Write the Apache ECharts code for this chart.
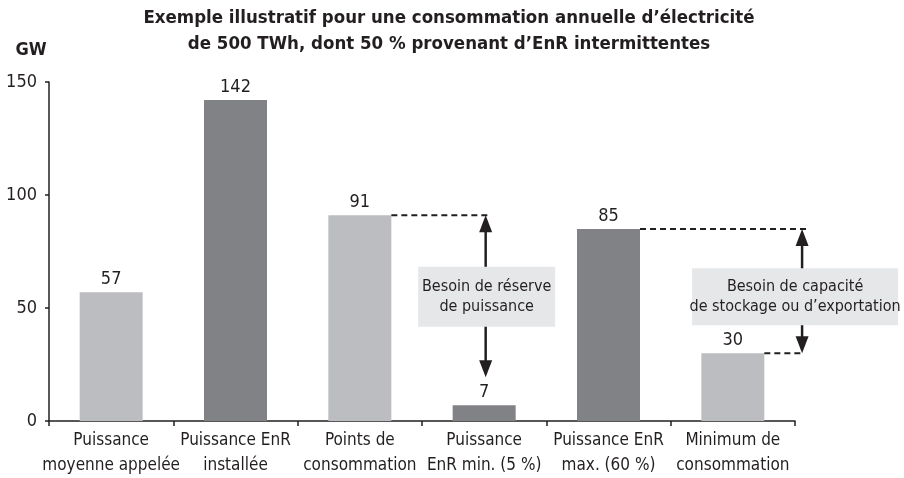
<!DOCTYPE html>
<html>
<head>
<meta charset="utf-8">
<script src="https://cdn.jsdelivr.net/npm/echarts@6/dist/echarts.min.js"></script>
<style>
html,body{margin:0;padding:0;background:#fff;}
#chart{width:904px;height:478px;}
</style>
</head>
<body>
<div id="chart"></div>
<script>
// ---- data ----
const categories = [
  'Puissance\nmoyenne appelée',
  'Puissance EnR\ninstallée',
  'Points de\nconsommation',
  'Puissance\nEnR min. (5 %)',
  'Puissance EnR\nmax. (60 %)',
  'Minimum de\nconsommation'
];
const values = [57, 142, 91, 7, 85, 30];
const barKind = ['demand', 'enr', 'demand', 'enr', 'enr', 'demand'];
const yTicks = [0, 50, 100, 150];
const gapPairs = [[2, 3], [4, 5]];
const gapLabels = ['Besoin de réserve\nde puissance', 'Besoin de capacité\nde stockage ou d’exportation'];
const titleText = 'Exemple illustratif pour une consommation annuelle d’électricité\nde 500 TWh, dont 50 % provenant d’EnR intermittentes';
const unitText = 'GW';

// ---- styles ----
const FONT = "'Liberation Sans Narrow', 'DejaVu Sans Condensed', 'Arial Narrow', sans-serif";
const INK = '#231f20';
const kindColor = { demand: '#bcbdc0', enr: '#808285' };
const BAR_W = 63;
const gapLayout = [
  { arrowMode: 'lowCenter', arrowDx: 1.5, lowTipGap: 28, boxDx: 1, boxW: 137, boxH: 60 },
  { arrowMode: 'afterLow', arrowBand: 0.557, lowTipGap: 0, boxDx: -7, boxW: 206, boxH: 57 }
];
const BOX_VALUE = 55;

const chart = echarts.init(document.getElementById('chart'), null, { renderer: 'canvas' });

function renderGap(params, api) {
  const i = params.dataIndex;
  const [hi, lo] = gapPairs[i];
  const L = gapLayout[i];
  const hiPt = api.coord([hi, values[hi]]);
  const loPt = api.coord([lo, values[lo]]);
  const band = api.size([1, 0])[0];
  const half = BAR_W / 2;
  let ax;
  if (L.arrowMode === 'lowCenter') ax = loPt[0] + L.arrowDx;
  else ax = loPt[0] + band * L.arrowBand;
  const dashStyle = { stroke: INK, lineWidth: 2, lineDash: [6, 4] };
  const children = [];
  children.push({ type: 'line', shape: { x1: hiPt[0] + half, y1: hiPt[1], x2: ax + 5, y2: hiPt[1] }, style: dashStyle });
  if (L.arrowMode !== 'lowCenter') {
    children.push({ type: 'line', shape: { x1: loPt[0] + half, y1: loPt[1], x2: ax, y2: loPt[1] }, style: dashStyle });
  }
  const topTip = hiPt[1];
  const lowTip = loPt[1] - L.lowTipGap;
  const headL = 17, headW = 6.5;
  children.push({ type: 'line', shape: { x1: ax, y1: topTip + headL - 2, x2: ax, y2: lowTip - headL + 2 }, style: { stroke: INK, lineWidth: 2.5 } });
  children.push({ type: 'polygon', shape: { points: [[ax, topTip], [ax - headW, topTip + headL], [ax + headW, topTip + headL]] }, style: { fill: INK } });
  children.push({ type: 'polygon', shape: { points: [[ax, lowTip], [ax - headW, lowTip - headL], [ax + headW, lowTip - headL]] }, style: { fill: INK } });
  const cy = api.coord([lo, BOX_VALUE])[1];
  const cx = ax + L.boxDx;
  children.push({ type: 'rect', shape: { x: cx - L.boxW / 2, y: cy - L.boxH / 2, width: L.boxW, height: L.boxH }, style: { fill: '#e6e7e8' } });
  children.push({ type: 'text', x: cx, y: cy, style: { text: gapLabels[i], fill: INK, font: '16px ' + FONT, textAlign: 'center', textVerticalAlign: 'middle', lineHeight: 20 } });
  return { type: 'group', children: children };
}

const option = {
  animation: false,
  backgroundColor: '#ffffff',
  textStyle: { fontFamily: FONT },
  graphic: [
    { type: 'text', x: 449, y: 5, silent: true,
      style: { text: titleText, fill: INK, font: 'bold 18.5px ' + FONT, textAlign: 'center', textVerticalAlign: 'top', lineHeight: 26 } },
    { type: 'text', x: 31, y: 50, silent: true,
      style: { text: unitText, fill: INK, font: 'bold 18px ' + FONT, textAlign: 'center', textVerticalAlign: 'middle' } }
  ],
  grid: { left: 49, right: 109, top: 82, bottom: 57, containLabel: false },
  xAxis: {
    type: 'category',
    data: categories,
    axisLine: { lineStyle: { color: INK, width: 1.5 } },
    axisTick: { show: true, length: 5, lineStyle: { color: INK, width: 1.5 } },
    axisLabel: { color: INK, fontFamily: FONT, fontSize: 17, lineHeight: 25, margin: 7, interval: 0 }
  },
  yAxis: {
    type: 'value',
    min: yTicks[0],
    max: yTicks[yTicks.length - 1],
    interval: yTicks[1] - yTicks[0],
    axisLine: { show: true, lineStyle: { color: INK, width: 1.5 } },
    axisTick: { show: true, length: 4, lineStyle: { color: INK, width: 1.5 } },
    splitLine: { show: false },
    axisLabel: { color: INK, fontFamily: FONT, fontSize: 18, margin: 12 }
  },
  series: [
    {
      type: 'bar',
      barWidth: BAR_W,
      data: values.map((v, i) => ({ value: v, itemStyle: { color: kindColor[barKind[i]] } })),
      label: { show: true, position: 'top', distance: 4, color: INK, fontFamily: FONT, fontSize: 18 }
    },
    {
      type: 'custom',
      clip: false,
      z: 5,
      renderItem: renderGap,
      data: gapPairs.map(p => [p[0]]),
      encode: { x: 0 },
      silent: true
    }
  ]
};
chart.setOption(option);
</script>
</body>
</html>
